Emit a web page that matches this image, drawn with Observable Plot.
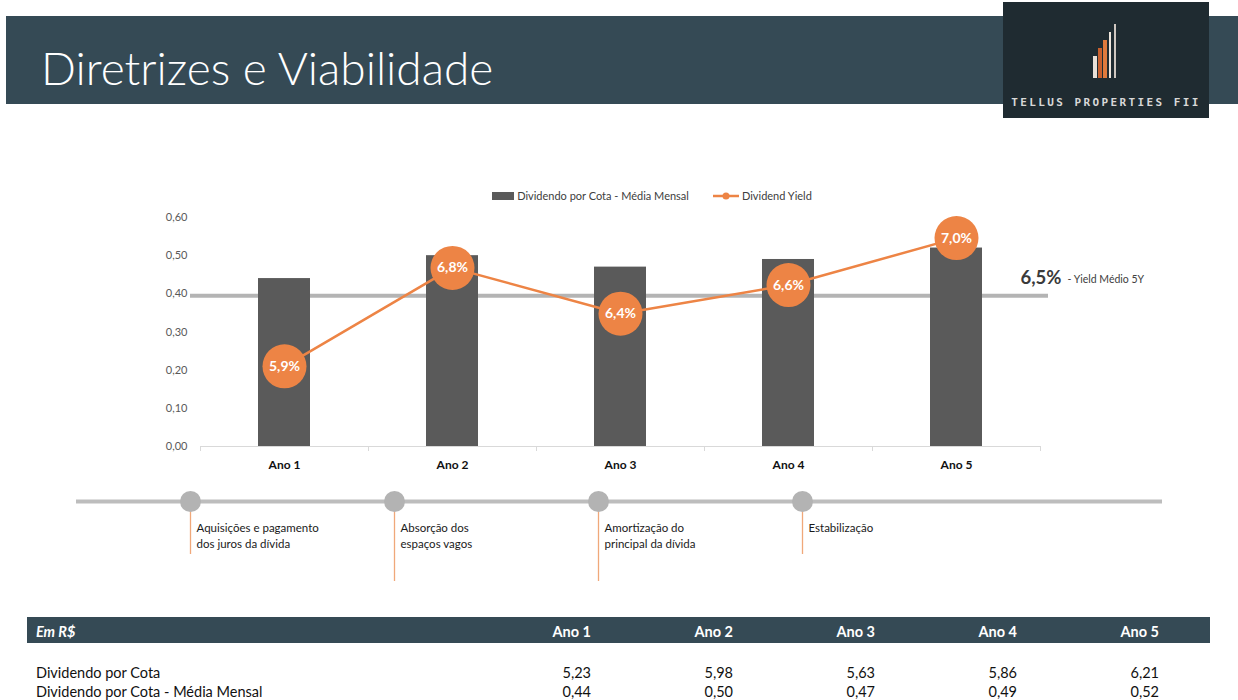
<!DOCTYPE html>
<html><head><meta charset="utf-8">
<script src="https://cdn.jsdelivr.net/npm/d3@7"></script>
<script src="https://cdn.jsdelivr.net/npm/@observablehq/plot@0.6"></script>
<style>
body{margin:0;background:#fff;font-family:Lato,"Open Sans",sans-serif;}
#page{position:relative;width:1238px;height:700px;overflow:hidden;background:#fff;}
#header{position:absolute;left:6px;top:16px;width:1232px;height:88px;background:#354a55;}
#title{position:absolute;left:41px;top:45px;color:#fff;font-size:46px;font-weight:300;line-height:1;white-space:nowrap;}
#logo{position:absolute;left:1003px;top:2px;width:206px;height:116px;background:#1f2b31;}
#logo .b{position:absolute;bottom:40px;width:4px;}
#logo .t{position:absolute;left:0;width:206px;top:94px;text-align:center;color:#d8d8d8;font:bold 11px "DejaVu Sans Mono",monospace;letter-spacing:2.4px;}
#legend{position:absolute;left:0;width:1238px;top:189px;display:flex;justify-content:center;gap:24px;font-size:11px;color:#404040;padding-left:66px;box-sizing:border-box;}
#legend .it{display:flex;align-items:center;gap:3px;}
#chart{position:absolute;left:0;top:205px;}
#timeline{position:absolute;left:0;top:480px;}
#tbl{position:absolute;left:0;top:0;width:1238px;height:700px;pointer-events:none;}
.hdr{position:absolute;left:27px;top:617px;width:1183px;height:26px;background:#354a55;}
.cell{position:absolute;line-height:20px;font-size:14.5px;white-space:nowrap;}
</style></head>
<body>
<div id="page">
  <div id="header"></div>
  <div id="title">Diretrizes e Viabilidade</div>
  <div id="logo">
    <div class="b" style="left:90px;height:22px;background:#e9e0d8"></div>
    <div class="b" style="left:95px;height:30px;background:#c8602e"></div>
    <div class="b" style="left:100px;height:38px;background:#e07a3c"></div>
    <div class="b" style="left:106px;height:46px;background:#efe6dc;width:2px"></div>
    <div class="b" style="left:111px;height:54px;background:#cfc7c0;width:2px"></div>
    <div class="t">TELLUS PROPERTIES FII</div>
  </div>
  <div id="legend">
    <div class="it"><span style="display:inline-block;width:22px;height:8px;background:#5a5a5a"></span><span>Dividendo por Cota - Média Mensal</span></div>
    <div class="it"><svg width="26" height="10"><line x1="0" y1="5" x2="26" y2="5" stroke="#ED8445" stroke-width="2.5"/><circle cx="13" cy="5" r="3.5" fill="#ED8445"/></svg><span>Dividend Yield</span></div>
  </div>
  <div id="chart"></div>
  <div id="timeline"></div>
  <div id="tbl"></div>
</div>
<script>
// ---- data ----
const categories = ["Ano 1", "Ano 2", "Ano 3", "Ano 4", "Ano 5"];
const dividendoMensal = [0.44, 0.50, 0.47, 0.49, 0.52];
const dividendoAnual = [5.23, 5.98, 5.63, 5.86, 6.21];
const dividendYield = [5.90, 6.76, 6.36, 6.61, 7.02];
const yTicks = [0, 0.1, 0.2, 0.3, 0.4, 0.5, 0.6];
const yieldAxisDomain = [5.2, 7.2]; // hidden secondary axis (%)
const milestoneLabels = [
  "Aquisições e pagamento\ndos juros da dívida",
  "Absorção dos\nespaços vagos",
  "Amortização do\nprincipal da dívida",
  "Estabilização"
];
const tableRowLabels = ["Dividendo por Cota", "Dividendo por Cota - Média Mensal"];

// ---- helpers ----
const comma = (v, n) => v.toFixed(n).replace(".", ",");
const fmtPct = v => comma(v, 1) + "%";
const yOfYield = v => (v - yieldAxisDomain[0]) / (yieldAxisDomain[1] - yieldAxisDomain[0]) * 0.6;
const orange = "#ED8445";

const rows = categories.map((c, i) => ({cat: c, div: dividendoMensal[i], yld: dividendYield[i], yy: yOfYield(dividendYield[i])}));
const avgYield = d3.mean(dividendYield);

const chart = Plot.plot({
  width: 1238, height: 275,
  marginLeft: 190, marginRight: 190, marginTop: 12, marginBottom: 34,
  style: {fontFamily: "Lato, 'Open Sans', sans-serif", fontSize: "11px", color: "#595959", background: "transparent"},
  x: {type: "band", domain: categories, range: [200, 1040], padding: 0},
  y: {domain: [0, 0.6]},
  marks: [
    Plot.ruleY([yOfYield(avgYield)], {stroke: "#b4b4b4", strokeWidth: 4, dy: 1.5}),
    Plot.barY(rows, {x: "cat", y: "div", fill: "#5a5a5a", insetLeft: 58, insetRight: 58}),
    Plot.ruleY([0], {stroke: "#d9d9d9", strokeWidth: 1, insetLeft: 10, insetRight: 8}),
    Plot.ruleX(categories, {x: d => d, dx: -84, y1: 0, y2: 0, insetBottom: -5, stroke: "#d9d9d9"}),
    Plot.ruleX(categories.slice(-1), {x: d => d, dx: 84, y1: 0, y2: 0, insetBottom: -5, stroke: "#d9d9d9"}),
    Plot.line(rows, {x: "cat", y: "yy", stroke: orange, strokeWidth: 2.5}),
    Plot.dot(rows, {x: "cat", y: "yy", r: 22, fill: orange}),
    Plot.text(rows, {x: "cat", y: "yy", text: d => fmtPct(d.yld), fill: "white", fontWeight: "bold", fontSize: 14}),
    Plot.text([avgYield], {x: () => categories[categories.length - 1], y: d => yOfYield(d), text: d => fmtPct(d), dx: 64, dy: -16, textAnchor: "start", fontSize: 18.5, fontWeight: "bold", fill: "#3a3a3a"}),
    Plot.text([avgYield], {x: () => categories[categories.length - 1], y: d => yOfYield(d), text: () => "- Yield Médio 5Y", dx: 111, dy: -15, textAnchor: "start", fontSize: 10.5, fill: "#404040"}),
    Plot.axisX({tickSize: 0, tickPadding: 14, fontSize: 12, fontWeight: "bold", fill: "#111", label: null}),
    Plot.axisY({ticks: yTicks, tickFormat: d => comma(d, 2), tickSize: 0, tickPadding: 3, fontSize: 11, fill: "#595959", label: null})
  ]
});
document.getElementById("chart").append(chart);

// ---- timeline ----
const milestones = milestoneLabels.map((label, i) => ({label, key: "m" + i, long: i === 1 || i === 2}));
const timeline = Plot.plot({
  width: 1238, height: 110,
  marginLeft: 76, marginRight: 76, marginTop: 0, marginBottom: 0,
  style: {fontFamily: "Lato, 'Open Sans', sans-serif", background: "transparent"},
  x: {type: "point", domain: milestones.map(d => d.key), range: [189, 803], padding: 0, axis: null},
  y: {domain: [0, 110], range: [0, 110], axis: null},
  marks: [
    Plot.ruleY([21], {stroke: "#bdbdbd", strokeWidth: 4}),
    Plot.ruleX(milestones, {x: "key", y1: 21, y2: d => d.long ? 101 : 74, stroke: "#F0A87A", strokeWidth: 1.3}),
    Plot.dot(milestones, {x: "key", y: 21, r: 10.5, fill: "#b3b3b3"}),
    Plot.text(milestones, {x: "key", y: 40, text: "label", dx: 6, textAnchor: "start", lineAnchor: "top", lineHeight: 1.4, fontSize: 11.5, fill: "#1a1a1a"})
  ]
});
document.getElementById("timeline").append(timeline);

// ---- table ----
const tbl = d3.select("#tbl");
tbl.append("div").attr("class", "hdr");
tbl.append("div").attr("class", "cell")
  .style("left", "36px").style("top", "622px")
  .style("color", "#fff").style("font-weight", "bold").style("font-style", "italic")
  .text("Em R$");
const colRight = i => 591 + i * 142;
categories.forEach((c, i) => {
  tbl.append("div").attr("class", "cell")
    .style("left", (colRight(i) - 100) + "px").style("width", "100px").style("text-align", "right")
    .style("top", "622px").style("color", "#fff").style("font-weight", "bold").text(c);
});
const tableRows = [dividendoAnual, dividendoMensal];
tableRows.forEach((vals, r) => {
  const top = 663 + r * 19;
  tbl.append("div").attr("class", "cell").style("left", "36px").style("top", top + "px").style("color", "#111").text(tableRowLabels[r]);
  vals.forEach((v, i) => {
    tbl.append("div").attr("class", "cell")
      .style("left", (colRight(i) - 100) + "px").style("width", "100px").style("text-align", "right")
      .style("top", top + "px").style("color", "#111").text(comma(v, 2));
  });
});
</script>
</body></html>
